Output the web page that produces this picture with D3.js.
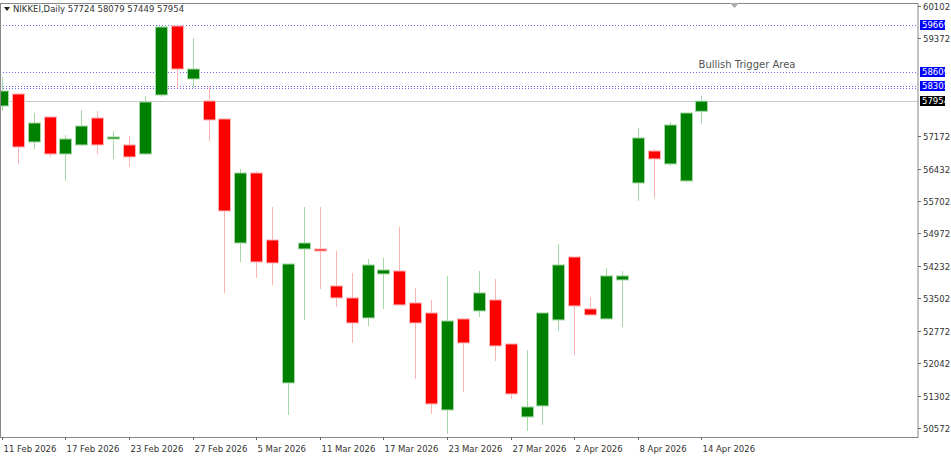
<!DOCTYPE html>
<html>
<head>
<meta charset="utf-8">
<script src="https://cdn.jsdelivr.net/npm/d3@7"></script>
<style>
  body { margin: 0; background: #fff; }
  svg text { font-family: Tahoma, "DejaVu Sans", sans-serif; }
</style>
</head>
<body>
<div id="chart"></div>
<script>
// NIKKEI daily OHLC
const dates = ["11 Feb","12 Feb","13 Feb","16 Feb","17 Feb","18 Feb","19 Feb","20 Feb","23 Feb","24 Feb",
  "25 Feb","26 Feb","27 Feb","2 Mar","3 Mar","4 Mar","5 Mar","6 Mar","9 Mar","10 Mar",
  "11 Mar","12 Mar","13 Mar","16 Mar","17 Mar","18 Mar","19 Mar","20 Mar","23 Mar","24 Mar",
  "25 Mar","26 Mar","27 Mar","30 Mar","31 Mar","1 Apr","2 Apr","3 Apr","6 Apr","7 Apr",
  "8 Apr","9 Apr","10 Apr","13 Apr","14 Apr"];
const opens  = [57844,58115,57031,57596,56760,56964,57573,57099,56964,56760,58092,59650,58454,57957,57551,54750,56331,54818,51589,54615,54615,53780,53509,53057,54051,54118,53396,53170,50979,53035,53215,53464,52470,50822,51070,53012,54434,53261,53035,53915,56105,56828,56535,56151,57724];
const highs  = [58499,58115,57686,57596,57189,57754,57731,57280,57167,58070,59650,59650,59379,58296,57551,56422,56376,55563,54276,55563,55563,54570,54073,54389,54412,55112,53734,53464,54006,53035,54118,53938,52470,52335,53170,54728,54434,53532,54186,54118,57347,56873,57483,57686,58079];
const lows   = [57731,56535,56873,56693,56151,56941,56760,56648,56467,56738,58047,58250,58250,57054,53622,54322,53960,53802,50867,53012,53712,53306,52493,52876,53261,53351,51680,50889,50438,51386,53080,52086,51228,50506,50641,52764,52222,53125,53035,52854,55699,55767,56490,56128,57449];
const closes = [58183,56918,57460,56760,57099,57392,56964,57144,56693,57934,59628,58679,58679,57528,55473,56331,54322,54299,54276,54750,54570,53509,52944,54254,54141,53351,52944,51115,52989,52493,53622,52425,51341,51047,53170,54254,53328,53125,54006,54006,57122,56648,57415,57686,57954];
const priceTicks = [60102,59372,57172,56432,55702,54972,54232,53502,52772,52042,51302,50572];
const levels = [59669, 58609, 58305];
const lastPrice = 57954;
const dateLabels = ["11 Feb 2026","17 Feb 2026","23 Feb 2026","27 Feb 2026","5 Mar 2026","11 Mar 2026",
  "17 Mar 2026","23 Mar 2026","27 Mar 2026","2 Apr 2026","8 Apr 2026","14 Apr 2026"];

const W = 951, H = 459;
const plot = { left: 0, right: 918, top: 3, bottom: 437 };

const svg = d3.select("#chart").append("svg")
    .attr("width", W)
    .attr("height", H);

const x = d3.scaleLinear().domain([0, dates.length - 1]).range([1.8, 701.4]);
const y = d3.scaleLinear().domain([50572, 60102]).range([428, 6]);

const candles = dates.map((d, i) => ({
    i, date: d, o: opens[i], h: highs[i], l: lows[i], c: closes[i], up: closes[i] >= opens[i]
}));

const g = svg.append("g");
g.append("clipPath").attr("id", "clip").append("rect")
    .attr("x", plot.left + 1).attr("y", plot.top).attr("width", plot.right - 1).attr("height", plot.bottom - plot.top);

// frame
svg.append("rect")
    .attr("x", 0.5).attr("y", plot.top + 0.5)
    .attr("width", plot.right - 0.5).attr("height", plot.bottom - plot.top)
    .attr("fill", "none").attr("stroke", "#888").attr("stroke-width", 1);

const inner = g.append("g").attr("clip-path", "url(#clip)");

// last price line
inner.append("line")
    .attr("x1", 0).attr("x2", plot.right)
    .attr("y1", Math.round(y(lastPrice)) + 0.5).attr("y2", Math.round(y(lastPrice)) + 0.5)
    .attr("stroke", "#c8c8c8").attr("stroke-width", 1);

// level lines
inner.selectAll(".level")
    .data(levels)
    .enter()
    .append("line")
    .attr("x1", 0).attr("x2", plot.right)
    .attr("y1", d => Math.round(y(d)) + 0.5).attr("y2", d => Math.round(y(d)) + 0.5)
    .attr("stroke", "#6a6aff").attr("stroke-width", 1)
    .attr("stroke-dasharray", "1,2");
inner.append("line")
    .attr("x1", 0).attr("x2", plot.right)
    .attr("y1", Math.round(y(58305)) + 2.5).attr("y2", Math.round(y(58305)) + 2.5)
    .attr("stroke", "#6a6aff").attr("stroke-width", 1)
    .attr("stroke-dasharray", "1,2");

// wicks
inner.selectAll(".wick")
    .data(candles)
    .enter()
    .append("line")
    .attr("x1", d => Math.round(x(d.i)) + 0.5).attr("x2", d => Math.round(x(d.i)) + 0.5)
    .attr("y1", d => y(d.h)).attr("y2", d => y(d.l))
    .attr("stroke", d => d.up ? "#a6d8a6" : "#ffb4b4")
    .attr("stroke-width", 1);

// bodies
inner.selectAll(".body")
    .data(candles)
    .enter()
    .append("rect")
    .attr("x", d => Math.round(x(d.i)) - 5.5)
    .attr("y", d => y(Math.max(d.o, d.c)))
    .attr("width", 12)
    .attr("height", d => Math.max(2, Math.abs(y(d.o) - y(d.c))))
    .attr("fill", d => d.up ? "#008000" : "#ff0000")
    .attr("stroke", d => d.up ? "#a6d8a6" : "#ffb4b4")
    .attr("stroke-width", 1);

// annotation
svg.append("text")
    .attr("x", 747).attr("y", 68)
    .attr("text-anchor", "middle")
    .attr("font-size", 10).attr("fill", "#555")
    .text("Bullish Trigger Area");

// title
svg.append("path").attr("d", "M4,7 L10,7 L7,11 Z").attr("fill", "#222");
svg.append("text")
    .attr("x", 13).attr("y", 12)
    .attr("font-size", 8.5).attr("fill", "#333")
    .text("NIKKEI,Daily  57724 58079 57449 57954");

// shift marker
svg.append("path").attr("d", "M730,3 L739,3 L734.5,8 Z").attr("fill", "#aaa");

// price axis
const yAxis = svg.append("g");
yAxis.selectAll(".pt")
    .data(priceTicks)
    .enter()
    .append("g")
    .each(function(d) {
        const t = d3.select(this);
        const yy = Math.round(y(d)) + 0.5;
        t.append("line").attr("x1", plot.right).attr("x2", plot.right + 3)
            .attr("y1", yy).attr("y2", yy).attr("stroke", "#666");
        t.append("text").attr("x", plot.right + 5).attr("y", yy + 3)
            .attr("font-size", 8.5).attr("fill", "#333").text(d);
    });

const tags = levels.map(v => ({ v, bg: "#0000ff" })).concat([{ v: lastPrice, bg: "#000" }]);
yAxis.selectAll(".tag")
    .data(tags)
    .enter()
    .append("g")
    .each(function(d) {
        const t = d3.select(this);
        const yy = Math.round(y(d.v));
        t.append("rect").attr("x", plot.right + 2).attr("y", yy - 5)
            .attr("width", 25).attr("height", 10).attr("fill", d.bg);
        t.append("text").attr("x", plot.right + 4).attr("y", yy + 3)
            .attr("font-size", 8.5).attr("fill", "#fff").text(d.v);
    });

// date axis
svg.selectAll(".dl")
    .data(dateLabels)
    .enter()
    .append("g")
    .each(function(d, k) {
        const t = d3.select(this);
        const xx = Math.round(x(k * 4)) + 0.5;
        t.append("line").attr("x1", xx).attr("x2", xx)
            .attr("y1", plot.bottom).attr("y2", plot.bottom + 3).attr("stroke", "#666");
        t.append("text").attr("x", xx + 1).attr("y", plot.bottom + 15)
            .attr("font-size", 8.5).attr("fill", "#333").text(d);
    });
</script>
</body>
</html>
